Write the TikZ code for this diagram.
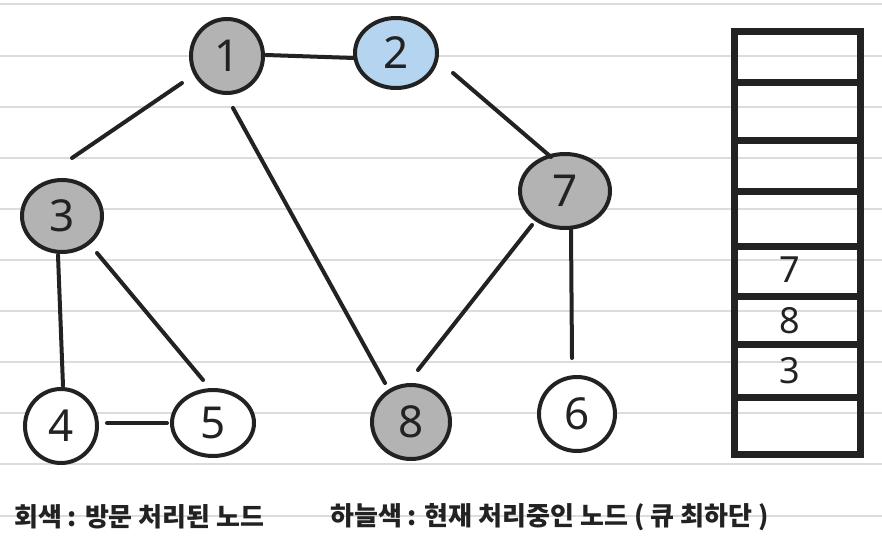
\documentclass[tikz,border=0pt]{standalone}
\usepackage{fontspec}
\setmainfont{Noto Sans}
\newfontfamily\krfont{Noto Sans CJK KR}
\usetikzlibrary{shapes.geometric,calc}
\definecolor{ink}{HTML}{222222}
\definecolor{visited}{HTML}{B3B3B3}
\definecolor{current}{HTML}{B4D4F0}
\definecolor{paperrule}{HTML}{DCDCDC}
\begin{document}
\begin{tikzpicture}[x=1pt,y=-1pt,
  gnode/.style={ellipse, draw=ink, line width=4pt, inner sep=0pt, fill=white,
    font=\fontsize{44}{44}\selectfont, text=ink},
  edge/.style={draw=ink, line width=4pt, line cap=round},
  stackline/.style={draw=ink, line width=7pt},
  stacknum/.style={font=\fontsize{36}{36}\selectfont, text=ink, inner sep=0pt},
  legend/.style={font=\krfont\bfseries\fontsize{26}{26}\selectfont, text=ink, anchor=west, inner sep=0pt}
]
\useasboundingbox (0,0) rectangle (882,553);
\fill[white] (0,0) rectangle (882,553);
\foreach \k in {0,...,10} \draw[paperrule, line width=2pt] (0,{4.5+51.1*\k}) -- (882,{4.5+51.1*\k});

% nodes
\node[gnode, fill=visited, minimum width=72, minimum height=74] (n1) at (227,56) {1};
\node[gnode, fill=current, minimum width=82, minimum height=70] (n2) at (396,53) {2};
\node[gnode, fill=visited, minimum width=90, minimum height=74] (n7) at (565,191) {7};
\node[gnode, fill=visited, minimum width=80, minimum height=72] (n3) at (62,216) {3};
\node[gnode, minimum width=72, minimum height=74] (n4) at (61,426) {4};
\node[gnode, minimum width=82, minimum height=66] (n5) at (213,423) {5};
\node[gnode, fill=visited, minimum width=78, minimum height=74] (n8) at (411,422) {8};
\node[gnode, minimum width=76, minimum height=74] (n6) at (577,414) {6};

% edges
\draw[edge] ($(n1)+(39,-1)$) -- ($(n2)+(-42,5)$);
\draw[edge] ($(n1)+(-45,27)$) -- ($(n3)+(10,-58)$);
\draw[edge] ($(n1)+(6,52)$) -- ($(n8)+(-26,-39)$);
\draw[edge] ($(n2)+(57,20)$) -- ($(n7)+(-14,-34)$);
\draw[edge] ($(n7)+(-33,34)$) -- ($(n8)+(7,-52)$);
\draw[edge] ($(n7)+(6,39)$) -- ($(n6)+(-5,-56)$);
\draw[edge] ($(n3)+(-4,39)$) -- ($(n4)+(2,-40)$);
\draw[edge] ($(n3)+(35,37)$) -- ($(n5)+(-10,-43)$);
\draw[edge] ($(n4)+(46,-3)$) -- ($(n5)+(-46,0)$);

% queue
\draw[stackline] (734.5,31.5) rectangle (860.5,454.5);
\foreach \yy in {83,141,192,246,296,344,397}
  \draw[stackline] (734.5,\yy) -- (860.5,\yy);
\node[stacknum] (q7) at (790,270) {7};
\node[stacknum] (q8) at (790,321) {8};
\node[stacknum] (q3) at (790,371) {3};

% legend
\node[legend] (leg1) at (14,517) {회색 : 방문 처리된 노드};
\node[legend] (leg2) at (330,517) {하늘색 : 현재 처리중인 노드 ( 큐 최하단 )};
\end{tikzpicture}
\end{document}
